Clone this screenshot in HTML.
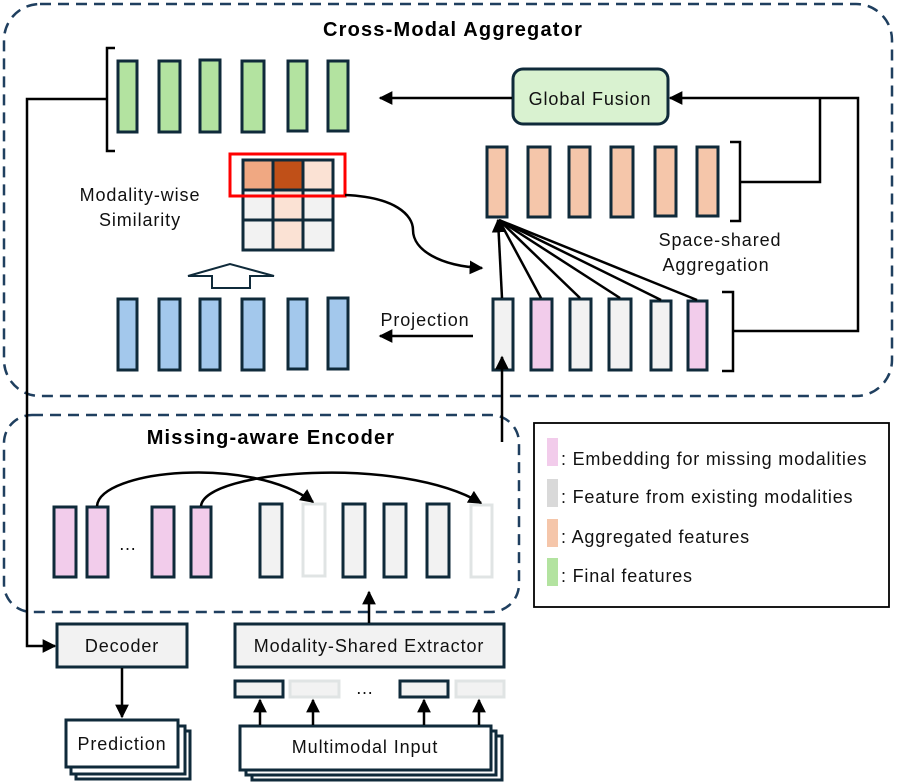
<!DOCTYPE html>
<html><head><meta charset="utf-8"><style>
html,body{margin:0;padding:0;background:#fff;}
svg{display:block;font-family:"Liberation Sans",sans-serif;}
</style></head><body>
<svg width="897" height="783" viewBox="0 0 897 783" xmlns="http://www.w3.org/2000/svg">
<defs>
<marker id="ah" viewBox="0 0 10 10" refX="9" refY="5" markerWidth="5.5" markerHeight="5.5" orient="auto"><path d="M0,0 L10,5 L0,10 z" fill="#000"/></marker>
</defs>
<rect x="4" y="4" width="888" height="392" rx="36" fill="none" stroke="#1f3f5f" stroke-width="2.5" stroke-dasharray="11,7"/>
<rect x="4" y="415" width="515" height="197" rx="28" fill="none" stroke="#1f3f5f" stroke-width="2.5" stroke-dasharray="11,7"/>
<text x="453" y="36" font-size="20" font-weight="bold" letter-spacing="1.2" text-anchor="middle">Cross-Modal Aggregator</text>
<text x="271" y="444" font-size="20" font-weight="bold" letter-spacing="1.2" text-anchor="middle">Missing-aware Encoder</text>

<g stroke="#0f2a3a" stroke-width="3">
<g fill="#b3e3a0">
<rect x="118" y="61" width="19" height="71"/><rect x="159" y="61" width="21" height="71"/><rect x="200" y="60" width="20" height="72"/><rect x="242" y="61" width="22" height="71"/><rect x="288" y="61" width="19" height="70"/><rect x="328" y="61" width="20" height="70"/>
</g>
<g fill="#a3c8ec">
<rect x="118" y="299" width="19" height="71"/><rect x="159" y="299" width="21" height="71"/><rect x="200" y="299" width="20" height="71"/><rect x="242" y="299" width="22" height="71"/><rect x="288" y="299" width="19" height="70"/><rect x="328" y="298" width="20" height="71"/>
</g>
<g fill="#f5c6aa">
<rect x="487" y="147" width="20" height="70"/><rect x="528" y="147" width="22" height="70"/><rect x="569" y="147" width="21" height="70"/><rect x="611" y="147" width="22" height="70"/><rect x="655" y="147" width="21" height="69"/><rect x="697" y="147" width="21" height="69"/>
</g>
<rect x="493" y="299" width="20" height="71" fill="#f2f2f2"/>
<rect x="531" y="299" width="21" height="71" fill="#f2cceb"/>
<rect x="570" y="299" width="21" height="71" fill="#f2f2f2"/>
<rect x="609" y="299" width="22" height="71" fill="#f2f2f2"/>
<rect x="651" y="301" width="20" height="69" fill="#f2f2f2"/>
<rect x="688" y="301" width="19" height="69" fill="#f2cceb"/>
<rect x="243" y="160" width="30" height="30" fill="#f0a882"/><rect x="273" y="160" width="30" height="30" fill="#c05018"/><rect x="303" y="160" width="30" height="30" fill="#fbe2d4"/>
<rect x="243" y="190" width="30" height="30" fill="#f2f2f2"/><rect x="273" y="190" width="30" height="30" fill="#fbe2d4"/><rect x="303" y="190" width="30" height="30" fill="#f2f2f2"/>
<rect x="243" y="220" width="30" height="30" fill="#f2f2f2"/><rect x="273" y="220" width="30" height="30" fill="#fbe2d4"/><rect x="303" y="220" width="30" height="30" fill="#f2f2f2"/>
<g fill="#f2cceb">
<rect x="54" y="507" width="22" height="70"/><rect x="87" y="507" width="21" height="70"/><rect x="152" y="507" width="22" height="70"/><rect x="191" y="507" width="20" height="70"/>
</g>
<g fill="#f2f2f2">
<rect x="260" y="504" width="22" height="73"/><rect x="343" y="504" width="22" height="73"/><rect x="384" y="504" width="22" height="73"/><rect x="427" y="504" width="22" height="73"/>
</g>
<rect x="57" y="624" width="130" height="43" fill="#f2f2f2"/>
<rect x="235" y="624" width="269" height="43" fill="#f2f2f2"/>
<rect x="235" y="681" width="48" height="16" fill="#f2f2f2"/>
<rect x="400" y="681" width="48" height="16" fill="#f2f2f2"/>
<rect x="76" y="731" width="114" height="48" fill="#fff"/>
<rect x="71" y="726" width="114" height="48" fill="#fff"/>
<rect x="66" y="720" width="112" height="47" fill="#fff"/>
<rect x="252" y="736" width="250" height="44" fill="#fff"/>
<rect x="246" y="731" width="250" height="44" fill="#fff"/>
<rect x="240" y="726" width="251" height="44" fill="#fff"/>
</g>
<rect x="513" y="69" width="155" height="55" rx="10" fill="#d9f2d0" stroke="#0f2a3a" stroke-width="3"/>
<g fill="none" stroke="#e0e4e4" stroke-width="3">
<rect x="303" y="504" width="22" height="72"/><rect x="471" y="505" width="21" height="72"/>
<rect x="290" y="681" width="49" height="16" fill="#f2f2f2"/><rect x="456" y="681" width="48" height="16" fill="#f2f2f2"/>
</g>
<rect x="230" y="154" width="115" height="42" fill="none" stroke="#ff0000" stroke-width="3"/>

<g fill="none" stroke="#000" stroke-width="2.5">
<path d="M115,48 H107 V151 H115"/>
<path d="M107,99 H27 V646 H55" marker-end="url(#ah)"/>
<path d="M512,98 H380" marker-end="url(#ah)"/>
<path d="M730,142 H740 V221 H730"/>
<path d="M722,292 H733 V371 H722"/>
<path d="M740,182 H820 V98"/>
<path d="M733,331 H858 V98 H670" marker-end="url(#ah)"/>
<path d="M345,195 C395,197 413,215 413,230 C413,250 440,266 482,268" marker-end="url(#ah)"/>
<path d="M473,336 H380" marker-end="url(#ah)"/>
<path d="M502,298 L498,220" marker-end="url(#ah)"/>
<path d="M541,298 L499,220"/><path d="M580,298 L499,220"/><path d="M620,298 L499,220"/><path d="M661,300 L499,220"/><path d="M697,300 L499,220"/>
<path d="M502,442 V357" marker-end="url(#ah)"/>
<path d="M97,506 C100,470 250,455 313,502" marker-end="url(#ah)"/>
<path d="M201,506 C205,470 400,455 481,503" marker-end="url(#ah)"/>
<path d="M369,623 V592" marker-end="url(#ah)"/>
<path d="M122,668 V717" marker-end="url(#ah)"/>
<path d="M260,725 V700" marker-end="url(#ah)"/>
<path d="M313,725 V700" marker-end="url(#ah)"/>
<path d="M424,725 V700" marker-end="url(#ah)"/>
<path d="M479,725 V700" marker-end="url(#ah)"/>
</g>
<path d="M212,288 V276 H188 L230,264 L274,276 H250 V288 Z" fill="#fff" stroke="#0f2a3a" stroke-width="2"/>

<g font-size="18" fill="#111" letter-spacing="0.9">
<text x="590" y="105" text-anchor="middle">Global Fusion</text>
<text x="140" y="201" text-anchor="middle">Modality-wise</text>
<text x="140" y="226" text-anchor="middle">Similarity</text>
<text x="720" y="246" text-anchor="middle">Space-shared</text>
<text x="716" y="271" text-anchor="middle">Aggregation</text>
<text x="425" y="326" text-anchor="middle">Projection</text>
<text x="122" y="652" text-anchor="middle">Decoder</text>
<text x="369" y="652" text-anchor="middle">Modality-Shared Extractor</text>
<text x="122" y="750" text-anchor="middle">Prediction</text>
<text x="365" y="753" text-anchor="middle">Multimodal Input</text>
<text x="128" y="550" text-anchor="middle">…</text>
<text x="365" y="694" text-anchor="middle">…</text>
</g>

<rect x="534" y="423" width="355" height="184" fill="#fff" stroke="#000" stroke-width="1.8"/>
<rect x="547" y="438" width="11" height="28" fill="#f2cceb"/>
<rect x="547" y="479" width="11" height="28" fill="#d9d9d9"/>
<rect x="547" y="519" width="11" height="28" fill="#f5c6aa"/>
<rect x="547" y="558" width="11" height="28" fill="#b3e3a0"/>
<g font-size="18" fill="#111" letter-spacing="0.8">
<text x="561" y="465">: Embedding for missing modalities</text>
<text x="561" y="503">: Feature  from existing modalities</text>
<text x="561" y="543">: Aggregated features</text>
<text x="561" y="582">: Final features</text>
</g>
</svg>
</body></html>
